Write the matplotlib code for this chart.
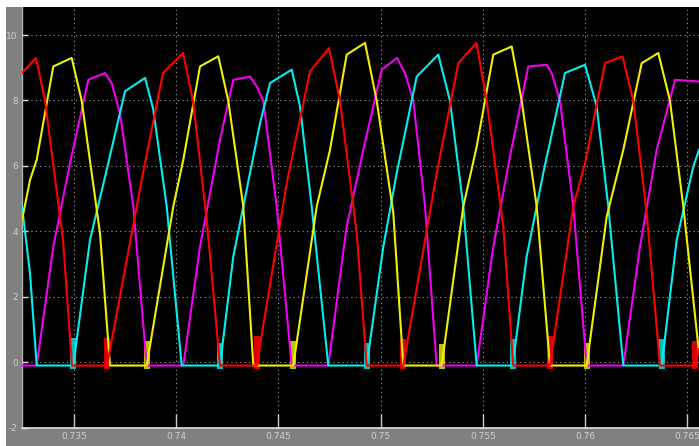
import matplotlib
matplotlib.use("Agg")
import matplotlib.pyplot as plt
from matplotlib.patches import Rectangle

# ---------------- data (time in s, value) ----------------
red_t = [0.732456, 0.733141, 0.733581, 0.734462, 0.734902,
         0.736614, 0.738375, 0.739354, 0.740332, 0.740821, 0.741506, 0.742142,
         0.743937, 0.745404, 0.746544, 0.747474, 0.748012, 0.748829, 0.749318,
         0.751108, 0.752742, 0.753798, 0.754689, 0.755188, 0.756000, 0.756489,
         0.758284, 0.759424, 0.759996, 0.760974, 0.761830, 0.762359, 0.763014, 0.763665,
         0.765377, 0.765573]
red_v = [8.84, 9.30, 8.00, 3.74, -0.10,
         -0.10, 5.78, 8.84, 9.45, 7.99, 4.26, -0.10,
         -0.10, 5.47, 8.89, 9.60, 7.99, 3.94, -0.10,
         -0.10, 5.78, 9.14, 9.76, 7.99, 4.15, -0.10,
         -0.10, 4.76, 6.08, 9.14, 9.35, 7.99, 4.56, -0.10,
         -0.10, 0.40]

yel_t = [0.732456, 0.732848, 0.733175, 0.733987, 0.734887, 0.735377, 0.736272, 0.736761,
         0.738556, 0.739857, 0.740347, 0.741163, 0.742059, 0.742548, 0.743281, 0.743771,
         0.745727, 0.746872, 0.747522, 0.748339, 0.749235, 0.749807, 0.750619, 0.751108,
         0.752986, 0.754043, 0.754698, 0.755510, 0.756411, 0.756900, 0.757633, 0.758284,
         0.760079, 0.761058, 0.761870, 0.762770, 0.763582, 0.764154, 0.764805, 0.765573]
yel_v = [4.35, 5.57, 6.19, 9.04, 9.30, 7.99, 3.94, -0.10,
         -0.10, 4.76, 6.19, 9.04, 9.35, 7.99, 4.76, -0.10,
         -0.10, 4.76, 6.49, 9.40, 9.76, 7.99, 4.56, -0.10,
         -0.10, 4.76, 6.59, 9.40, 9.65, 7.99, 4.76, -0.10,
         -0.10, 4.45, 6.49, 9.14, 9.45, 7.99, 4.76, 0.30]

mag_t = [0.732456, 0.733175, 0.733987, 0.734804, 0.735700, 0.736516, 0.736844, 0.737250, 0.737901, 0.738556,
         0.740347, 0.741163, 0.742142, 0.742792, 0.743609, 0.743937, 0.744260, 0.744915, 0.745649,
         0.747439, 0.748339, 0.749151, 0.750052, 0.750800, 0.751191, 0.751597, 0.752170, 0.752742,
         0.754698, 0.755510, 0.756327, 0.757223, 0.758123, 0.758367, 0.758773, 0.759424, 0.760079,
         0.761870, 0.762687, 0.763503, 0.764399, 0.765573]
mag_v = [-0.10, -0.10, 3.53, 6.08, 8.63, 8.84, 8.53, 7.61, 4.76, -0.10,
         -0.10, 3.53, 6.80, 8.63, 8.73, 8.43, 7.99, 4.76, -0.10,
         -0.10, 4.15, 6.49, 8.94, 9.30, 8.84, 7.99, 4.76, -0.10,
         -0.10, 3.53, 6.29, 9.04, 9.09, 8.84, 7.99, 4.76, -0.10,
         -0.10, 3.53, 6.49, 8.63, 8.58]

cyan_t = [0.732456, 0.732848, 0.733175,
          0.734966, 0.735783, 0.736600, 0.737495, 0.738473, 0.738879, 0.739535, 0.740268,
          0.742142, 0.742792, 0.743609, 0.744098, 0.744588, 0.745649, 0.746055, 0.746627, 0.747439,
          0.749318, 0.750130, 0.750785, 0.751764, 0.752820, 0.753392, 0.754043, 0.754698,
          0.756459, 0.757144, 0.757956, 0.759018, 0.759996, 0.760568, 0.761136, 0.761870,
          0.763748, 0.764482, 0.765294, 0.765573]
cyan_v = [4.76, 2.72, -0.10,
          -0.10, 3.74, 5.88, 8.28, 8.69, 7.72, 4.76, -0.10,
          -0.10, 3.23, 5.78, 7.30, 8.53, 8.94, 7.82, 4.76, -0.10,
          -0.10, 3.53, 5.78, 8.73, 9.40, 7.99, 4.76, -0.10,
          -0.10, 3.23, 5.78, 8.84, 9.09, 7.82, 4.76, -0.10,
          -0.10, 3.74, 5.98, 6.49]

# switching bursts at the start of each rising edge
red_burst_t = [0.736614, 0.743937, 0.751108, 0.758284, 0.765377]
red_burst_h = [0.95, 1.0, 0.9, 1.0, 0.85]
yel_burst_t = [0.738556, 0.745727, 0.752986, 0.760079]
yel_burst_h = [0.85, 0.85, 0.75, 0.8]
cyan_burst_t = [0.734966, 0.742142, 0.749318, 0.756459, 0.763748]
cyan_burst_h = [0.95, 0.8, 0.8, 0.9, 0.9]

x_ticks = [0.735, 0.74, 0.745, 0.75, 0.755, 0.76, 0.765]
x_labels = ["0.735", "0.74", "0.745", "0.75", "0.755", "0.76", "0.765"]
y_ticks = [-2, 0, 2, 4, 6, 8, 10]
y_labels = ["-2", "0", "2", "4", "6", "8", "10"]

# ---------------- figure ----------------
W, H = 699, 446
fig = plt.figure(figsize=(W / 100, H / 100), dpi=100, facecolor="white")
fig.patches.append(Rectangle((6 / W, 0), 1 - 6 / W, 1 - 7.3 / H,
                             transform=fig.transFigure, facecolor="#808080",
                             edgecolor="none", zorder=-5))
ax = fig.add_axes([22 / W, 18.3 / H, 1 - 22 / W, (427.7 - 7.3) / H])
ax.set_zorder(2)
ax.set_facecolor("black")

red_c, yel_c, mag_c, cyan_c = "#ff0000", "#f0f000", "#f000f0", "#00f0f0"
lw = 1.5
ax.plot(mag_t, mag_v, color=mag_c, lw=lw, zorder=3)
ax.plot(cyan_t, cyan_v, color=cyan_c, lw=lw, zorder=3)
ax.plot(yel_t, yel_v, color=yel_c, lw=lw, zorder=3)
ax.plot(red_t, red_v, color=red_c, lw=lw, zorder=3)

bw = 0.00028
ax.bar(red_burst_t, red_burst_h, width=bw, bottom=-0.2, color=red_c, alpha=0.85, zorder=2, linewidth=0)
ax.bar(yel_burst_t, yel_burst_h, width=bw, bottom=-0.2, color=yel_c, alpha=0.8, zorder=2, linewidth=0)
ax.bar(cyan_burst_t, cyan_burst_h, width=bw, bottom=-0.2, color=cyan_c, alpha=0.8, zorder=2, linewidth=0)

ax.set_xlim(0.732456, 0.765573)
ax.set_ylim(-2, 10 + (35 - 7.3) / 32.7)

ax.set_xticks(x_ticks)
ax.set_xticklabels(x_labels)
ax.set_yticks(y_ticks)
ax.set_yticklabels(y_labels)

tick_col = "#d0d0d0"
ax.tick_params(axis="x", direction="in", length=10, width=1, color="#c8c8c8",
               labelcolor=tick_col, labelsize=6.5, pad=3)
ax.tick_params(axis="y", direction="in", length=4.5, width=1, color="#e0e0e0",
               labelcolor=tick_col, labelsize=6.5, pad=3)

ax.grid(True, color="#a0a0a0", linestyle=(0, (1, 3)), linewidth=0.8, zorder=1)
ax.set_axisbelow(True)

for s in ["top", "right"]:
    ax.spines[s].set_visible(False)
ax.spines["bottom"].set_color("#e0e0e0")
ax.spines["bottom"].set_linewidth(1.2)
ax.spines["left"].set_color("#b0b0b0")
ax.spines["left"].set_linewidth(1.0)

fig.savefig("out.png", dpi=100, facecolor=fig.get_facecolor())
